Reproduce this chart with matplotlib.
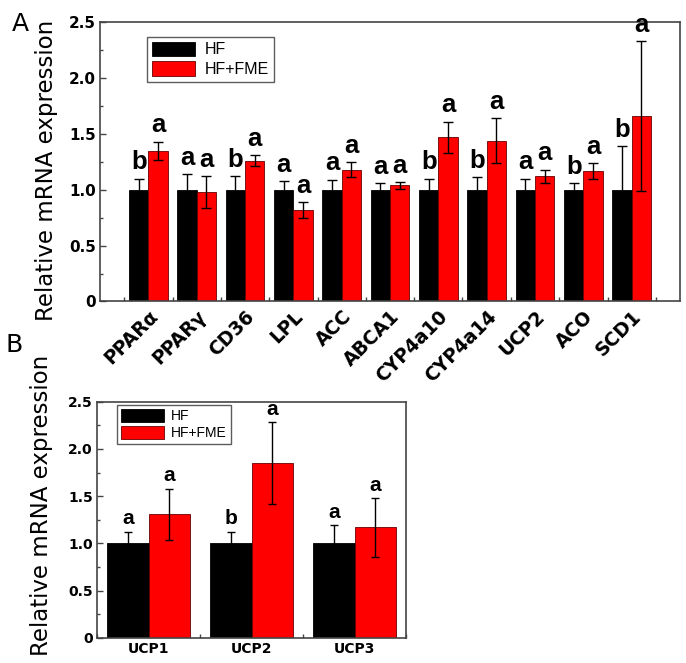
import numpy as np
import matplotlib
matplotlib.use("Agg")
import matplotlib.pyplot as plt
from matplotlib.ticker import MultipleLocator, FixedLocator, FuncFormatter
import matplotlib.transforms as mtransforms

# ---------------- data ----------------
genes_a = ["PPARα", "PPARγ", "CD36", "LPL", "ACC", "ABCA1", "CYP4a10",
           "CYP4a14", "UCP2", "ACO", "SCD1"]
hf_a = [1.0] * 11
hf_err_a = [0.10, 0.14, 0.12, 0.08, 0.09, 0.06, 0.10, 0.11, 0.10, 0.06, 0.39]
fme_a = [1.35, 0.98, 1.26, 0.82, 1.18, 1.04, 1.47, 1.44, 1.12, 1.17, 1.66]
fme_err_a = [0.08, 0.14, 0.05, 0.07, 0.07, 0.03, 0.14, 0.20, 0.06, 0.07, 0.67]
hf_let_a = ["b", "a", "b", "a", "a", "a", "b", "b", "a", "b", "b"]
fme_let_a = ["a"] * 11

genes_b = ["UCP1", "UCP2", "UCP3"]
hf_b = [1.0, 1.0, 1.0]
hf_err_b = [0.12, 0.12, 0.19]
fme_b = [1.31, 1.85, 1.17]
fme_err_b = [0.27, 0.43, 0.31]
hf_let_b = ["a", "b", "a"]
fme_let_b = ["a", "a", "a"]

W, H = 686, 663
fig = plt.figure(figsize=(W / 100, H / 100), dpi=100)
plt.rcParams['font.family'] = ['DejaVu Sans']

RED = "#ff0000"
SPINE = "#444444"
LET_FONT = ['Liberation Sans', 'DejaVu Sans']


def ax_rect(l, t, r, b):
    return [l / W, 1 - b / H, (r - l) / W, (b - t) / H]


def style_axes(ax, tick_fs):
    for s in ax.spines.values():
        s.set_color(SPINE)
        s.set_linewidth(1.2)
    ax.set_ylim(0, 2.5)
    ax.yaxis.set_major_locator(MultipleLocator(0.5))
    ax.yaxis.set_minor_locator(MultipleLocator(0.25))
    ax.yaxis.set_major_formatter(FuncFormatter(lambda v, p: "0" if v == 0 else f"{v:.1f}"))
    ax.tick_params(axis='y', which='both', direction='in', right=False, left=True,
                   labelsize=tick_fs, colors='black', pad=3)
    ax.tick_params(axis='y', which='major', length=4, width=1, color=SPINE)
    ax.tick_params(axis='y', which='minor', length=2.5, width=1, color=SPINE)
    for lab in ax.get_yticklabels():
        lab.set_fontweight('bold')


def draw_panel(ax, n, hf, hf_err, fme, fme_err, hf_let, fme_let, width, let_fs, cap, pad):
    x = np.arange(1, n + 1)
    ax.bar(x - width / 2, hf, width, color='black', edgecolor='black', linewidth=0.6,
           yerr=hf_err, error_kw=dict(ecolor='black', elinewidth=1, capsize=cap, capthick=1), zorder=2)
    ax.bar(x + width / 2, fme, width, color=RED, edgecolor='#660000', linewidth=0.6,
           yerr=fme_err, error_kw=dict(ecolor='black', elinewidth=1, capsize=cap, capthick=1), zorder=2)
    for xi, v, e, t in zip(x - width / 2, hf, hf_err, hf_let):
        ax.annotate(t, (xi, v + e), xytext=(0, pad), textcoords='offset points',
                    ha='center', va='bottom', fontsize=let_fs, fontweight='bold',
                    family=LET_FONT)
    for xi, v, e, t in zip(x + width / 2, fme, fme_err, fme_let):
        ax.annotate(t, (xi, v + e), xytext=(0, pad), textcoords='offset points',
                    ha='center', va='bottom', fontsize=let_fs, fontweight='bold',
                    family=LET_FONT)
    ax.set_xlim(0.5 if n == 3 else 0, n + 0.5 if n == 3 else n + 1)
    ax.xaxis.set_major_locator(FixedLocator(x))
    ax.xaxis.set_minor_locator(FixedLocator(np.arange(0.5, n + 1, 1.0)))
    ax.tick_params(axis='x', which='major', length=0, top=False)
    ax.tick_params(axis='x', which='minor', direction='in', length=3, width=1, color=SPINE, top=False)
    return x


def style_legend(leg):
    leg.get_frame().set_linewidth(1.0)
    hs = leg.legend_handles
    hs[0].set_edgecolor('black')
    hs[1].set_edgecolor('#660000')
    for h in hs:
        h.set_linewidth(0.6)


# ---------------- panel A ----------------
axA = fig.add_axes(ax_rect(100, 22, 680, 301.5))
style_axes(axA, 11)
xA = draw_panel(axA, 11, hf_a, hf_err_a, fme_a, fme_err_a, hf_let_a, fme_let_a, 0.4, 18.5, 3.5, 3)
axA.set_xticklabels(genes_a, rotation=45, ha='right', rotation_mode='anchor',
                    fontsize=13.5, fontweight='bold')
offset = mtransforms.ScaledTranslation(17 / 100, -1 / 100, fig.dpi_scale_trans)
for lab in axA.get_xticklabels():
    lab.set_transform(lab.get_transform() + offset)
axA.tick_params(axis='x', which='major', pad=4)
legA = axA.legend(["HF", "HF+FME"], loc='upper left', bbox_to_anchor=(47 / 580, 1 - 15 / 279.5),
                  frameon=True, fancybox=False, edgecolor='#333333',
                  handlelength=2.7, handleheight=1.0, borderpad=0.3, labelspacing=0.25,
                  handletextpad=0.6, borderaxespad=0, prop={'family': LET_FONT, 'size': 11.5})
style_legend(legA)

# ---------------- panel B ----------------
axB = fig.add_axes(ax_rect(97, 401.7, 406, 637.7))
style_axes(axB, 10)
xB = draw_panel(axB, 3, hf_b, hf_err_b, fme_b, fme_err_b, hf_let_b, fme_let_b, 0.4, 15, 3, 2.5)
axB.set_xticklabels(genes_b, fontsize=10, fontweight='bold')
axB.tick_params(axis='x', which='major', pad=3)
legB = axB.legend(["HF", "HF+FME"], loc='upper left', bbox_to_anchor=(20 / 309, 1 - 3.5 / 236),
                  frameon=True, fancybox=False, edgecolor='#333333',
                  handlelength=3.1, handleheight=1.0, borderpad=0.3, labelspacing=0.2,
                  handletextpad=0.5, borderaxespad=0, prop={'family': LET_FONT, 'size': 10})
style_legend(legB)

# ---------------- labels ----------------
fig.text(47 / W, 1 - 170 / H, "Relative mRNA expression", rotation=90,
         ha='center', va='center', fontsize=16.5)
fig.text(42 / W, 1 - 505 / H, "Relative mRNA expression", rotation=90,
         ha='center', va='center', fontsize=16.5)
fig.text(20 / W, 1 - 24 / H, "A", ha='center', va='center', fontsize=18)
fig.text(14 / W, 1 - 345 / H, "B", ha='center', va='center', fontsize=18)

fig.savefig("out.png", dpi=100)
